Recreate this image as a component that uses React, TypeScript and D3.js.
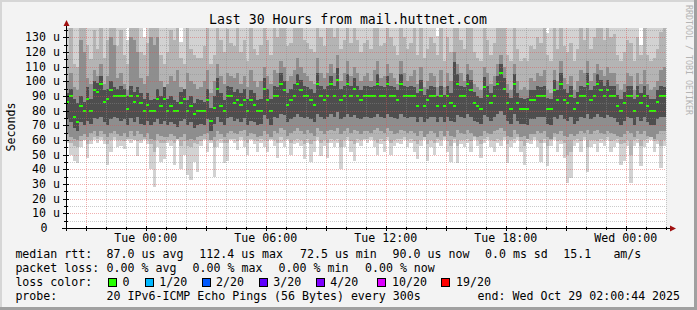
import React from "react";
import * as d3 from "d3";

// ---------- data ----------
const TITLE = "Last 30 Hours from mail.huttnet.com";
const Y_TITLE = "Seconds";
const WATERMARK = "RRDTOOL / TOBI OETIKER";
const END_TIME = new Date(Date.UTC(2025, 9, 29, 2, 0, 44));
const HOURS = 30;
const STEP_MINUTES = 10;
const Y_MAX = 136.4; // microseconds at the top of the plot
const yTickValues = [0, 10, 20, 30, 40, 50, 60, 70, 80, 90, 100, 110, 120, 130];

// median rtt per 10-minute step (us)
const median = [
  86, 90, 76, 72, 83, 80, 88, 80, 94, 93,
  98, 86, 88, 94, 90, 90, 90, 90, 81, 90,
  86, 90, 85, 80, 84, 80, 80, 88, 83, 88,
  80, 83, 80, 80, 85, 88, 80, 83, 78, 80,
  80, 80, 87, 73, 82, 95, 83, 80, 90, 90,
  85, 87, 84, 87, 80, 87, 84, 80, 80, 95,
  87, 80, 90, 90, 98, 94, 84, 87, 90, 98,
  94, 90, 90, 87, 84, 98, 90, 87, 90, 98,
  90, 101, 87, 90, 98, 90, 95, 90, 87, 90,
  90, 90, 90, 98, 90, 90, 98, 90, 90, 87,
  98, 90, 90, 90, 90, 83, 94, 83, 87, 90,
  90, 83, 90, 83, 90, 85, 83, 98, 90, 90,
  98, 94, 85, 83, 81, 96, 90, 85, 90, 98,
  106, 95, 85, 81, 98, 85, 81, 81, 81, 87,
  87, 90, 90, 90, 81, 81, 94, 87, 98, 87,
  85, 90, 81, 85, 90, 90, 98, 87, 90, 98,
  94, 90, 94, 90, 90, 83, 80, 85, 90, 90,
  80, 90, 85, 90, 83, 80, 80, 86, 90, 90,
];

// outer smoke (lowest / highest pings)
const smokeOuterLo = [
  58, 50, 46, 44, 55, 60, 48, 57, 60, 58,
  60, 57, 43, 52, 60, 55, 56, 54, 60, 58,
  60, 49, 58, 60, 57, 40, 28, 55, 45, 47,
  58, 56, 43, 60, 40, 50, 36, 33, 45, 38,
  56, 60, 52, 58, 35, 55, 58, 44, 46, 60,
  58, 53, 60, 55, 50, 60, 57, 52, 58, 55,
  52, 60, 56, 48, 58, 55, 60, 50, 57, 58,
  56, 47, 58, 45, 52, 60, 49, 56, 48, 58,
  55, 58, 40, 55, 60, 52, 46, 58, 56, 60,
  58, 60, 55, 50, 57, 52, 60, 50, 56, 58,
  57, 60, 55, 58, 52, 47, 56, 60, 46, 55,
  50, 58, 56, 60, 52, 45, 58, 44, 57, 55,
  58, 52, 60, 56, 48, 58, 60, 55, 52, 58,
  56, 60, 44, 55, 58, 60, 52, 43, 58, 57,
  60, 55, 45, 58, 42, 56, 60, 52, 57, 48,
  31, 34, 56, 58, 52, 60, 38, 55, 57, 52,
  58, 56, 60, 52, 55, 58, 43, 46, 56, 31,
  56, 58, 42, 55, 58, 60, 52, 57, 41, 56,
];
const smokeOuterHi = [
  150, 150, 150, 150, 150, 150, 150, 150, 150, 150,
  150, 150, 150, 150, 150, 150, 150, 150, 128, 150,
  150, 150, 150, 130, 150, 150, 150, 150, 150, 150,
  150, 150, 150, 150, 127, 150, 150, 150, 150, 150,
  150, 150, 150, 150, 150, 150, 150, 150, 150, 150,
  150, 150, 150, 150, 150, 150, 150, 150, 150, 150,
  150, 150, 150, 150, 150, 150, 150, 150, 150, 150,
  150, 150, 150, 150, 150, 150, 150, 150, 150, 150,
  150, 150, 150, 150, 150, 150, 150, 150, 150, 150,
  150, 150, 150, 150, 150, 150, 150, 150, 150, 150,
  150, 150, 150, 150, 150, 150, 150, 150, 150, 150,
  150, 131, 150, 150, 150, 150, 150, 150, 150, 150,
  150, 150, 150, 150, 150, 150, 150, 150, 150, 150,
  150, 150, 150, 150, 150, 150, 150, 150, 150, 150,
  150, 150, 150, 150, 133, 150, 150, 150, 150, 150,
  150, 150, 150, 150, 150, 150, 150, 150, 150, 150,
  150, 150, 150, 150, 150, 150, 150, 150, 150, 150,
  150, 150, 125, 150, 150, 150, 150, 150, 150, 150,
];
// second smoke ring
const smokeMidLo = [
  60, 58, 56, 55, 59, 60, 57, 60, 62, 61,
  62, 60, 57, 60, 62, 60, 60, 59, 61, 61,
  60, 59, 60, 61, 60, 57, 52, 60, 58, 58,
  60, 60, 58, 61, 56, 59, 56, 55, 58, 57,
  59, 61, 60, 60, 55, 60, 61, 58, 58, 61,
  61, 59, 62, 60, 58, 61, 60, 59, 61, 60,
  59, 61, 60, 58, 62, 60, 61, 58, 60, 61,
  60, 57, 61, 57, 59, 62, 58, 60, 58, 61,
  60, 61, 55, 60, 62, 59, 57, 61, 60, 61,
  61, 62, 60, 58, 61, 59, 62, 58, 60, 61,
  61, 62, 60, 61, 59, 57, 60, 62, 57, 60,
  58, 61, 60, 62, 59, 56, 61, 56, 60, 60,
  61, 59, 62, 60, 57, 61, 62, 60, 59, 61,
  60, 62, 57, 60, 61, 62, 59, 56, 61, 60,
  62, 60, 58, 61, 56, 60, 62, 59, 60, 58,
  50, 52, 60, 61, 59, 62, 55, 60, 60, 59,
  61, 60, 62, 59, 60, 61, 57, 58, 60, 50,
  60, 61, 56, 60, 61, 62, 59, 60, 56, 60,
];
const smokeMidHi = [
  118, 150, 112, 110, 150, 150, 125, 115, 135, 122,
  140, 116, 128, 150, 150, 124, 135, 118, 112, 150,
  150, 150, 120, 118, 126, 150, 150, 150, 118, 112,
  120, 135, 128, 150, 116, 112, 140, 122, 118, 116,
  116, 124, 138, 112, 118, 150, 128, 120, 136, 126,
  124, 138, 120, 128, 114, 140, 122, 118, 125, 150,
  128, 118, 138, 130, 150, 140, 124, 126, 138, 150,
  145, 128, 126, 122, 120, 150, 130, 124, 138, 150,
  130, 150, 122, 128, 150, 126, 140, 128, 120, 126,
  128, 122, 138, 150, 124, 126, 150, 130, 124, 118,
  150, 130, 122, 126, 140, 118, 150, 116, 122, 130,
  126, 118, 138, 114, 130, 120, 150, 145, 128, 122,
  150, 140, 120, 116, 114, 150, 128, 118, 126, 150,
  150, 145, 118, 114, 150, 122, 114, 116, 114, 124,
  122, 130, 126, 150, 118, 114, 150, 122, 150, 124,
  120, 126, 114, 122, 140, 128, 150, 122, 130, 150,
  150, 128, 150, 130, 132, 118, 114, 120, 128, 126,
  114, 130, 118, 150, 118, 114, 116, 122, 134, 150,
];
// third smoke ring
const smokeInnerLo = [
  64, 62, 61, 60, 63, 64, 62, 65, 66, 63,
  66, 64, 62, 65, 66, 64, 63, 65, 62, 66,
  63, 66, 64, 62, 65, 61, 60, 64, 63, 62,
  62, 64, 63, 61, 62, 64, 60, 61, 60, 62,
  63, 64, 65, 60, 62, 66, 64, 62, 65, 66,
  65, 64, 66, 67, 63, 65, 64, 62, 63, 66,
  64, 62, 66, 65, 68, 67, 63, 65, 66, 68,
  66, 64, 67, 65, 63, 68, 66, 64, 66, 67,
  66, 68, 64, 66, 68, 65, 67, 66, 64, 66,
  66, 65, 67, 68, 66, 65, 68, 66, 64, 65,
  67, 66, 65, 66, 65, 63, 66, 62, 64, 66,
  65, 62, 66, 63, 66, 63, 62, 67, 65, 64,
  67, 65, 63, 62, 63, 66, 65, 64, 66, 67,
  68, 66, 63, 62, 67, 64, 62, 63, 61, 64,
  64, 66, 65, 66, 62, 61, 65, 64, 66, 63,
  62, 64, 63, 64, 66, 65, 67, 64, 66, 67,
  65, 64, 66, 65, 64, 63, 62, 64, 66, 65,
  62, 66, 64, 66, 63, 62, 61, 64, 66, 66,
];
const smokeInnerHi = [
  100, 106, 96, 94, 128, 120, 102, 98, 108, 104,
  112, 98, 104, 130, 125, 102, 106, 98, 94, 130,
  128, 120, 102, 98, 104, 130, 125, 130, 100, 96,
  98, 104, 100, 108, 96, 94, 106, 100, 98, 95,
  96, 100, 108, 92, 100, 112, 104, 98, 106, 104,
  102, 106, 98, 104, 96, 108, 100, 96, 100, 110,
  104, 98, 108, 106, 114, 110, 100, 104, 108, 116,
  110, 106, 104, 100, 98, 116, 106, 102, 106, 112,
  106, 118, 100, 106, 114, 104, 110, 106, 100, 104,
  106, 100, 108, 114, 102, 104, 112, 106, 102, 98,
  114, 106, 100, 104, 108, 98, 110, 96, 100, 106,
  104, 96, 108, 96, 106, 100, 120, 112, 106, 100,
  112, 108, 98, 96, 94, 110, 106, 98, 104, 112,
  118, 110, 98, 94, 112, 100, 94, 96, 94, 102,
  100, 106, 104, 108, 94, 92, 108, 100, 114, 102,
  98, 104, 94, 100, 108, 106, 114, 100, 106, 112,
  108, 104, 110, 106, 106, 98, 94, 98, 106, 104,
  94, 106, 98, 108, 98, 94, 96, 100, 108, 110,
];
// core smoke near the median
const smokeCoreLo = [
  74, 72, 68, 66, 72, 70, 73, 71, 75, 74,
  76, 72, 70, 74, 76, 75, 73, 74, 70, 75,
  72, 76, 71, 70, 73, 70, 72, 74, 71, 73,
  70, 72, 71, 69, 73, 74, 70, 72, 68, 70,
  71, 70, 74, 66, 71, 76, 72, 70, 75, 76,
  73, 74, 72, 75, 70, 73, 72, 70, 71, 77,
  74, 70, 76, 75, 78, 77, 72, 74, 76, 78,
  76, 75, 76, 74, 72, 78, 76, 74, 76, 78,
  76, 79, 74, 76, 78, 76, 77, 75, 74, 76,
  76, 75, 76, 78, 76, 75, 78, 76, 75, 74,
  78, 76, 75, 76, 76, 72, 76, 72, 74, 76,
  76, 72, 76, 72, 76, 73, 72, 77, 76, 75,
  78, 76, 73, 72, 71, 77, 76, 73, 76, 78,
  80, 77, 73, 71, 78, 73, 71, 71, 70, 74,
  74, 76, 76, 76, 71, 70, 76, 74, 77, 74,
  73, 76, 71, 73, 76, 75, 78, 74, 76, 78,
  76, 75, 77, 76, 75, 72, 70, 73, 76, 75,
  70, 76, 73, 76, 72, 70, 70, 74, 76, 76,
];
const smokeCoreHi = [
  92, 95, 88, 85, 90, 86, 96, 88, 100, 99,
  104, 94, 95, 100, 96, 95, 97, 95, 90, 97,
  93, 96, 92, 88, 92, 87, 88, 95, 90, 96,
  88, 90, 87, 86, 93, 95, 87, 90, 85, 88,
  87, 86, 95, 82, 90, 102, 92, 87, 97, 96,
  93, 95, 92, 95, 88, 94, 92, 87, 88, 102,
  95, 88, 97, 96, 106, 100, 92, 95, 98, 105,
  101, 97, 96, 95, 92, 106, 97, 95, 97, 104,
  97, 109, 95, 97, 105, 97, 102, 97, 94, 97,
  97, 96, 97, 105, 97, 96, 104, 97, 96, 94,
  105, 97, 96, 97, 96, 92, 101, 91, 95, 97,
  96, 90, 97, 91, 97, 92, 113, 105, 97, 96,
  105, 101, 93, 90, 89, 103, 97, 92, 97, 104,
  112, 102, 92, 89, 105, 92, 89, 88, 89, 94,
  94, 97, 96, 97, 89, 88, 101, 94, 106, 95,
  92, 97, 89, 93, 97, 96, 106, 94, 97, 105,
  101, 97, 101, 97, 97, 91, 88, 93, 97, 97,
  88, 97, 92, 97, 91, 88, 88, 94, 97, 96,
];

const lossLabels = ["0", "1/20", "2/20", "3/20", "4/20", "10/20", "19/20"];
const lossColors = ["#26ff00", "#00b8ff", "#0059ff", "#5e00ff", "#7e00ff", "#dd00ff", "#ff0000"];

const legendRtt = ["median rtt:", "87.0 us avg", "112.4 us max", "72.5 us min", "90.0 us now", "0.0 ms sd", "15.1", "am/s"];
const legendLoss = ["packet loss:", "0.00 % avg", "0.00 % max", "0.00 % min", "0.00 % now"];
const legendLossColor = "loss color:";
const legendProbe = ["probe:", "20 IPv6-ICMP Echo Pings (56 Bytes) every 300s", "end: Wed Oct 29 02:00:44 2025"];

// ---------- layout ----------
const W = 697;
const H = 310;
const PLOT_L = 66;
const PLOT_R = 666;
const PLOT_T = 28;
const PLOT_B = 228;
const FONT = "'DejaVu Sans Mono', monospace";
const FS = 11.6;

const rttX = [15.4, 106.6, 199.3, 300, 392.6, 485, 563.3, 613.4];
const lossX = [15.4, 106.6, 192.6, 278.6, 365];
const boxX = [108.5, 145.5, 202.5, 259.5, 316.5, 377.5, 441.5];
const boxTextX = [122.6, 159.3, 216, 273.3, 330.3, 392, 456];
const probeX = [15.4, 106.6, 477.6];

export default function App() {
  const start = new Date(END_TIME.getTime() - HOURS * 3600e3);
  const x = d3.scaleUtc().domain([start, END_TIME]).range([PLOT_L, PLOT_R]);
  const y = d3.scaleLinear().domain([0, Y_MAX]).range([PLOT_B, PLOT_T]);
  const colTime = (i: number) => new Date(start.getTime() + i * STEP_MINUTES * 60e3);
  const colX = (i: number) => Math.round(x(colTime(i)));
  const yc = (v: number) => Math.round(Math.max(PLOT_T, Math.min(PLOT_B, y(v))));

  const bands = [
    { lo: smokeOuterLo, hi: smokeOuterHi, color: "#d2d2d2" },
    { lo: smokeMidLo, hi: smokeMidHi, color: "#b4b4b4" },
    { lo: smokeInnerLo, hi: smokeInnerHi, color: "#8e8e8e" },
    { lo: smokeCoreLo, hi: smokeCoreHi, color: "#4e4e4e" },
  ];

  const hours = d3.utcHour.range(d3.utcHour.ceil(start), END_TIME);
  const minorY = d3.range(5, 136, 5).filter((v) => v % 10 !== 0);
  const majorY = d3.range(10, 136, 10);
  const fmt = d3.utcFormat("%a %H:%M");

  return (
    <svg width={W} height={H} style={{ position: "absolute", left: 0, top: 0 }} fontFamily={FONT}>
      <rect x={0} y={0} width={W} height={H} fill="#f3f3f3" />
      {/* frame */}
      <rect x={0} y={0} width={W} height={2} fill="#d6d6d6" />
      <rect x={0} y={0} width={2} height={H} fill="#d6d6d6" />
      <rect x={0} y={H - 3} width={W} height={3} fill="#a0a0a0" />
      <rect x={W - 3} y={0} width={3} height={H} fill="#a0a0a0" />
      {/* canvas */}
      <rect x={PLOT_L} y={PLOT_T} width={PLOT_R - PLOT_L} height={PLOT_B - PLOT_T} fill="#ffffff" />

      {/* smoke */}
      <g shapeRendering="crispEdges">
        {bands.map((b, bi) =>
          b.lo.map((lo, i) => {
            const x0 = colX(i);
            const x1 = colX(i + 1);
            const t = yc(b.hi[i]);
            const bt = yc(lo);
            return <rect key={`b${bi}-${i}`} x={x0} y={t} width={x1 - x0} height={Math.max(0, bt - t)} fill={b.color} />;
          })
        )}
        {median.map((m, i) => {
          const x0 = colX(i);
          const x1 = colX(i + 1);
          return <rect key={`m${i}`} x={x0} y={Math.round(y(m)) - 1} width={x1 - x0} height={2} fill={lossColors[0]} />;
        })}
      </g>

      {/* grid */}
      <g fill="none" strokeWidth={1} strokeDasharray="1 1" shapeRendering="crispEdges">
        {minorY.map((v) => (
          <line key={`hy${v}`} x1={PLOT_L} x2={PLOT_R} y1={Math.round(y(v)) + 0.5} y2={Math.round(y(v)) + 0.5} stroke="rgba(140,140,140,0.45)" />
        ))}
        {hours.filter((h) => h.getUTCHours() % 3 !== 0).map((h) => (
          <line key={`vx${+h}`} x1={Math.round(x(h)) + 0.5} x2={Math.round(x(h)) + 0.5} y1={PLOT_T} y2={PLOT_B} stroke="rgba(140,140,140,0.45)" />
        ))}
        {majorY.map((v) => (
          <line key={`my${v}`} x1={PLOT_L} x2={PLOT_R} y1={Math.round(y(v)) + 0.5} y2={Math.round(y(v)) + 0.5} stroke="rgba(222,80,80,0.45)" />
        ))}
        {hours.filter((h) => h.getUTCHours() % 3 === 0).map((h) => (
          <line key={`mx${+h}`} x1={Math.round(x(h)) + 0.5} x2={Math.round(x(h)) + 0.5} y1={PLOT_T} y2={PLOT_B} stroke="rgba(222,80,80,0.45)" />
        ))}
      </g>

      {/* axes */}
      <g stroke="#000" strokeWidth={1} shapeRendering="crispEdges">
        <line x1={62} x2={670} y1={PLOT_B + 0.5} y2={PLOT_B + 0.5} />
        <line x1={PLOT_L + 0.5} x2={PLOT_L + 0.5} y1={PLOT_B + 3} y2={24} />
        {hours.map((h) => {
          const xx = Math.round(x(h)) + 0.5;
          const major = h.getUTCHours() % 3 === 0;
          return <line key={`tx${+h}`} x1={xx} x2={xx} y1={PLOT_B - (major ? 2 : 1)} y2={PLOT_B + (major ? 3 : 2)} />;
        })}
        {d3.range(5, 136, 5).map((v) => {
          const yy = Math.round(y(v)) + 0.5;
          const major = v % 10 === 0;
          return <line key={`ty${v}`} x1={PLOT_L - (major ? 3 : 2)} x2={PLOT_L + (major ? 3 : 2)} y1={yy} y2={yy} />;
        })}
      </g>
      <path d={`M670,${PLOT_B - 2.5}L676,${PLOT_B + 0.5}L670,${PLOT_B + 3.5}Z`} fill="#a01010" />
      <path d={`M${PLOT_L - 2.5},26L${PLOT_L + 0.5},20L${PLOT_L + 3.5},26Z`} fill="#a01010" />

      {/* y labels */}
      <g fontSize={FS} fill="#000" textAnchor="end">
        {yTickValues.map((v) => (
          <text key={`yl${v}`} x={v === 0 ? 47.6 : 60} y={Math.round(y(v)) + 4}>
            {v === 0 ? "0" : `${v} u`}
          </text>
        ))}
      </g>
      {/* x labels */}
      <g fontSize={FS} fill="#000" textAnchor="middle">
        {hours.filter((h) => h.getUTCHours() % 6 === 0).map((h) => (
          <text key={`xl${+h}`} x={x(h)} y={241.5}>
            {fmt(h)}
          </text>
        ))}
      </g>

      {/* titles */}
      <text x={348} y={24} fontSize={13.2} textAnchor="middle" fill="#000">
        {TITLE}
      </text>
      <text transform="translate(14.5,127) rotate(-90)" fontSize={FS} textAnchor="middle" fill="#000">
        {Y_TITLE}
      </text>
      <text transform="translate(685.5,5) rotate(90)" fontSize={8.3} fill="#b4b4b4">
        {WATERMARK}
      </text>

      {/* legend */}
      <g fontSize={FS} fill="#000" style={{ whiteSpace: "pre" }}>
        {legendRtt.map((s, i) => (
          <text key={`r${i}`} x={rttX[i]} y={258.3}>{s}</text>
        ))}
        {legendLoss.map((s, i) => (
          <text key={`l${i}`} x={lossX[i]} y={271.8}>{s}</text>
        ))}
        <text x={15.4} y={285.8}>{legendLossColor}</text>
        {lossLabels.map((s, i) => (
          <g key={`lc${i}`}>
            <rect x={boxX[i]} y={278.5} width={8} height={8} fill={lossColors[i]} stroke="#000" strokeWidth={1} />
            <text x={boxTextX[i]} y={285.8}>{s}</text>
          </g>
        ))}
        {legendProbe.map((s, i) => (
          <text key={`p${i}`} x={probeX[i]} y={300}>{s}</text>
        ))}
      </g>
    </svg>
  );
}
